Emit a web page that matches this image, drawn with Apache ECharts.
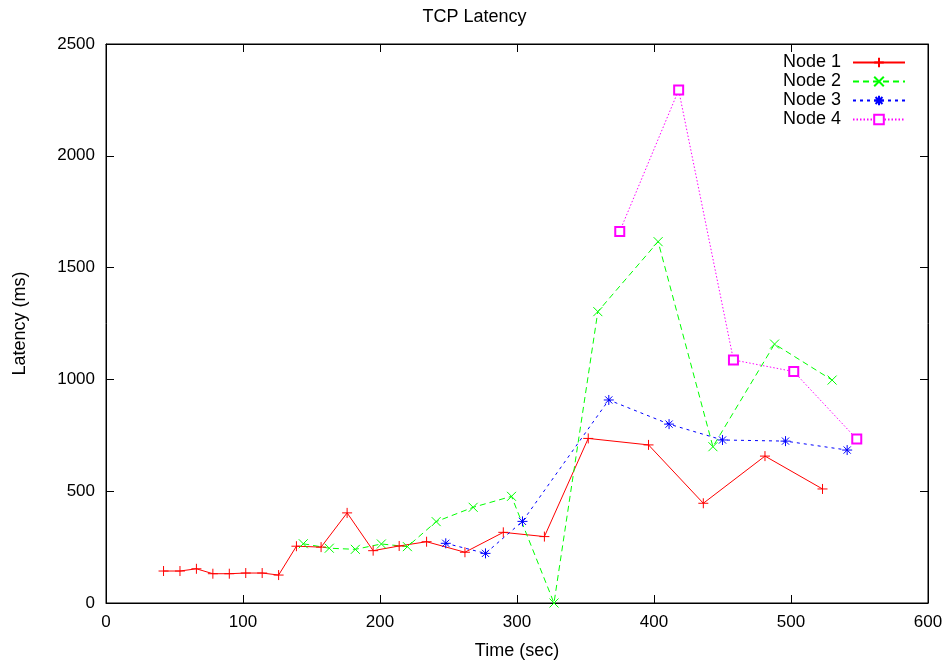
<!DOCTYPE html>
<html>
<head>
<meta charset="utf-8">
<title>TCP Latency</title>
<script src="https://cdn.jsdelivr.net/npm/echarts@6/dist/echarts.min.js"></script>
<style>
  html, body { margin: 0; padding: 0; background: #fff; }
  #chart { width: 949px; height: 663px; }
</style>
</head>
<body>
<div id="chart"></div>
<script>
// Sample times (sec) and measured TCP latency (ms) per node
const node1Time = [42, 54, 66, 78, 90, 102, 114, 126, 139, 157, 176, 195, 214, 234, 262, 290, 320, 352, 396, 436, 481, 523];
const node1Latency = [143, 143, 153, 131, 131, 134, 134, 125, 254, 250, 403, 234, 255, 274, 227, 316, 297, 736, 707, 446, 657, 510];

const node2Time = [144, 163, 182, 201, 220, 241, 268, 296, 327, 359, 403, 443, 488, 530];
const node2Latency = [265, 245, 240, 264, 252, 364, 428, 477, 0, 1303, 1616, 699, 1158, 997];

const node3Time = [248, 277, 304, 367, 411, 450, 496, 541];
const node3Latency = [267, 222, 365, 908, 800, 729, 724, 684];

const node4Time = [375, 418, 458, 502, 548];
const node4Latency = [1662, 2294, 1087, 1035, 733];

const seriesNames = ['Node 1', 'Node 2', 'Node 3', 'Node 4'];
const xTicks = { min: 0, max: 600, interval: 100 };
const yTicks = { min: 0, max: 2500, interval: 500 };

const FONT = '"Liberation Sans", Arial, Helvetica, sans-serif';

function pairs(xs, ys) {
  return xs.map((x, i) => [x, ys[i]]);
}

// gnuplot-style point glyphs drawn as stroked paths
const PLUS = 'path://M0,-5L0,5M-5,0L5,0';
const CROSS = 'path://M-5,-5L5,5M-5,5L5,-5';
const STAR = 'path://M0,-5L0,5M-5,0L5,0M-3.6,-3.6L3.6,3.6M-3.6,3.6L3.6,-3.6';

function lineSeries(name, data, color, dash, symbol, size) {
  return {
    name: name,
    type: 'line',
    data: data,
    clip: false,
    symbol: symbol,
    symbolSize: size,
    showAllSymbol: true,
    color: color,
    lineStyle: { color: color, width: 1, type: dash },
    itemStyle: { color: color, borderColor: color, borderWidth: 1 },
    emphasis: { disabled: true }
  };
}

// ticks point into the plot area, gnuplot style
const tickIn = { show: true, inside: false, length: -8, lineStyle: { color: '#000', width: 1 } };

const mirrorAxis = {
  show: true,
  axisLine: { show: true, onZero: false, lineStyle: { color: '#000', width: 1 } },
  axisTick: tickIn,
  axisLabel: { show: false },
  splitLine: { show: false }
};

const plainNumber = v => String(v);

const chart = echarts.init(document.getElementById('chart'), null, { renderer: 'canvas' });

chart.setOption({
  animation: false,
  backgroundColor: '#fff',
  textStyle: { fontFamily: FONT, color: '#000' },
  title: {
    text: 'TCP Latency',
    left: 'center',
    top: 3,
    textStyle: { fontFamily: FONT, fontSize: 18, fontWeight: 'normal', color: '#000' }
  },
  legend: {
    data: seriesNames,
    orient: 'vertical',
    right: 38,
    top: 48,
    align: 'right',
    itemWidth: 52,
    itemHeight: 12,
    itemGap: 0,
    selectedMode: false,
    textStyle: { fontFamily: FONT, fontSize: 18, lineHeight: 19, color: '#000', padding: [0, 7, 0, 0] }
  },
  grid: {
    left: 106, right: 21, top: 44, bottom: 60, containLabel: false, outerBoundsMode: 'none',
    show: true, borderColor: '#000', borderWidth: 1, backgroundColor: 'transparent'
  },
  xAxis: [
    {
      type: 'value',
      position: 'bottom',
      min: xTicks.min, max: xTicks.max, interval: xTicks.interval,
      name: 'Time (sec)',
      nameLocation: 'middle',
      nameGap: 39,
      nameTextStyle: { fontFamily: FONT, fontSize: 18, color: '#000' },
      axisLine: { show: true, onZero: false, lineStyle: { color: '#000', width: 1 } },
      axisTick: tickIn,
      axisLabel: { fontFamily: FONT, fontSize: 17, color: '#000', margin: 11, formatter: plainNumber },
      splitLine: { show: false }
    },
    Object.assign({
      type: 'value',
      position: 'top',
      min: xTicks.min, max: xTicks.max, interval: xTicks.interval
    }, mirrorAxis)
  ],
  yAxis: [
    {
      type: 'value',
      position: 'left',
      min: yTicks.min, max: yTicks.max, interval: yTicks.interval,
      name: 'Latency (ms)',
      nameLocation: 'middle',
      nameGap: 77,
      nameRotate: 90,
      nameTextStyle: { fontFamily: FONT, fontSize: 18, color: '#000' },
      axisLine: { show: true, onZero: false, lineStyle: { color: '#000', width: 1 } },
      axisTick: tickIn,
      axisLabel: { fontFamily: FONT, fontSize: 17, color: '#000', margin: 11, formatter: plainNumber },
      splitLine: { show: false }
    },
    Object.assign({
      type: 'value',
      position: 'right',
      min: yTicks.min, max: yTicks.max, interval: yTicks.interval
    }, mirrorAxis)
  ],
  series: [
    lineSeries(seriesNames[0], pairs(node1Time, node1Latency), '#ff0000', 'solid', PLUS, 10),
    lineSeries(seriesNames[1], pairs(node2Time, node2Latency), '#00ff00', [6, 4], CROSS, 9),
    lineSeries(seriesNames[2], pairs(node3Time, node3Latency), '#0000ff', [3, 4], STAR, 10),
    lineSeries(seriesNames[3], pairs(node4Time, node4Latency), '#ff00ff', [1.5, 2], 'emptyRect', 9)
  ]
});
</script>
</body>
</html>
